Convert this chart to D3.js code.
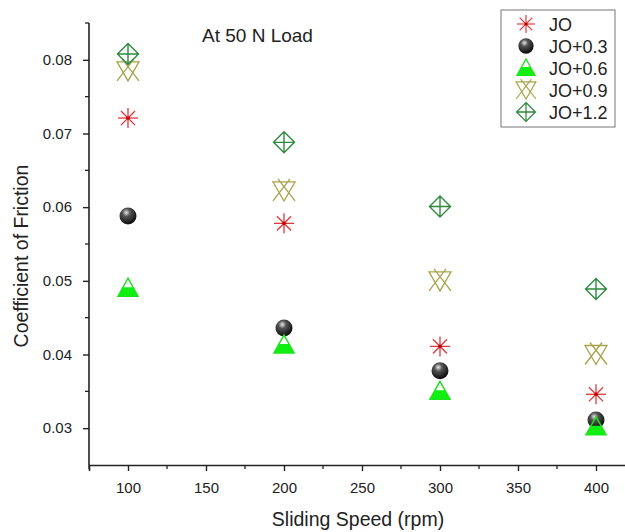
<!DOCTYPE html>
<html>
<head>
<meta charset="utf-8">
<script src="https://cdn.jsdelivr.net/npm/d3@7"></script>
<style>
body { margin: 0; background: #fff; }
text { font-family: "Liberation Sans", Arial, sans-serif; fill: #222; }
</style>
</head>
<body>
<script>
let speeds = [100, 200, 300, 400];
let seriesNames = ["JO", "JO+0.3", "JO+0.6", "JO+0.9", "JO+1.2"];
let jo    = [0.0721, 0.0578, 0.0411, 0.0346];
let jo03  = [0.0588, 0.0436, 0.0378, 0.0311];
let jo06  = [0.0490, 0.0413, 0.0350, 0.0302];
let jo09  = [0.0785, 0.0622, 0.0500, 0.0400];
let jo12  = [0.0808, 0.0688, 0.0601, 0.0489];
let xTicks = [100, 150, 200, 250, 300, 350, 400];
let yTicks = [0.03, 0.04, 0.05, 0.06, 0.07, 0.08];

let svg = d3.select("body").append("svg")
    .attr("width", 625)
    .attr("height", 532);

let defs = svg.append("defs");
let grad = defs.append("radialGradient")
    .attr("id", "ball")
    .attr("cx", "40%").attr("cy", "30%").attr("r", "65%");
grad.append("stop").attr("offset", "0%").attr("stop-color", "#e8e8e8");
grad.append("stop").attr("offset", "35%").attr("stop-color", "#555");
grad.append("stop").attr("offset", "100%").attr("stop-color", "#111");

let x = d3.scaleLinear().domain([75, 425]).range([89, 635]);
let y = d3.scaleLinear().domain([0.025, 0.085]).range([465, 23]);

// axes
let xAxis = svg.append("g").attr("transform", "translate(0,465)")
    .call(d3.axisBottom(x).tickValues(xTicks).tickSize(6).tickPadding(11).tickFormat(d3.format("d")));
let yAxis = svg.append("g").attr("transform", "translate(89,0)")
    .call(d3.axisLeft(y).tickValues(yTicks).tickSize(6).tickPadding(11).tickFormat(d3.format(".2f")));

[xAxis, yAxis].forEach(a => {
    a.select(".domain").attr("stroke", "#222").attr("stroke-width", 1.6);
    a.selectAll(".tick line").attr("stroke", "#222").attr("stroke-width", 1.4);
    a.selectAll(".tick text").style("font-size", "15px").attr("fill", "#222");
});
yAxis.select(".domain").attr("d", "M0," + y(0.025) + "V" + y(0.085));

// minor ticks
svg.append("g").selectAll("line")
    .data([75, 125, 175, 225, 275, 325, 375])
    .join("line")
    .attr("x1", d => x(d)).attr("x2", d => x(d))
    .attr("y1", 465).attr("y2", 469)
    .attr("stroke", "#222").attr("stroke-width", 1.3);
svg.append("g").selectAll("line")
    .data([0.035, 0.045, 0.055, 0.065, 0.075, 0.085])
    .join("line")
    .attr("x1", 85).attr("x2", 89)
    .attr("y1", d => y(d)).attr("y2", d => y(d))
    .attr("stroke", "#222").attr("stroke-width", 1.3);

// labels
svg.append("text").attr("x", 358).attr("y", 526)
    .attr("text-anchor", "middle").style("font-size", "19.5px")
    .text("Sliding Speed (rpm)");
svg.append("text")
    .attr("transform", "translate(28,256) rotate(-90)")
    .attr("text-anchor", "middle").style("font-size", "19.5px")
    .text("Coefficient of Friction");
svg.append("text").attr("x", 202).attr("y", 42)
    .style("font-size", "19px").text("At 50 N Load");

// marker drawers
function asterisk(g) {
    let r = 10;
    for (let i = 0; i < 4; i++) {
        let a = i * Math.PI / 4;
        g.append("line")
            .attr("x1", -r * Math.cos(a)).attr("y1", -r * Math.sin(a))
            .attr("x2", r * Math.cos(a)).attr("y2", r * Math.sin(a))
            .attr("stroke", "#e0383a").attr("stroke-width", 1.3);
    }
    g.append("circle").attr("r", 1.8).attr("fill", "#c00000");
}
function ball(g) {
    g.append("circle").attr("r", 8.5).attr("fill", "url(#ball)");
}
function tri(g) {
    g.append("path").attr("d", "M0,-10 L10,8 L-10,8 Z")
        .attr("fill", "none").attr("stroke", "#22dd22").attr("stroke-width", 1.5);
    g.append("path").attr("d", "M-5,-1 L5,-1 L10,8 L-10,8 Z")
        .attr("fill", "#11ee11");
}
function hourglass(g) {
    g.append("path").attr("d", "M-11,-9 L11,-9 L0,10 Z M-11,10 L6,-12 M11,10 L-6,-12")
        .attr("fill", "none").attr("stroke", "#a8a24a").attr("stroke-width", 1.3);
}
function diamond(g) {
    g.append("path").attr("d", "M0,-10.5 L10.5,0 L0,10.5 L-10.5,0 Z M0,-10.5 V10.5 M-10.5,0 H10.5")
        .attr("fill", "none").attr("stroke", "#2e8a3e").attr("stroke-width", 1.4);
}

let series = [
    { name: seriesNames[0], vals: jo, draw: asterisk },
    { name: seriesNames[1], vals: jo03, draw: ball },
    { name: seriesNames[2], vals: jo06, draw: tri },
    { name: seriesNames[3], vals: jo09, draw: hourglass },
    { name: seriesNames[4], vals: jo12, draw: diamond }
];

// draw order: small behind larger
[1, 2, 0, 3, 4].forEach(i => {
    let s = series[i];
    s.vals.forEach((v, j) => {
        let g = svg.append("g").attr("transform", `translate(${x(speeds[j])},${y(v)})`);
        s.draw(g);
    });
});

// legend
let leg = svg.append("g");
leg.append("rect").attr("x", 501).attr("y", 10).attr("width", 114).attr("height", 117)
    .attr("fill", "#fff").attr("stroke", "#777").attr("stroke-width", 1);
series.forEach((s, i) => {
    let ly = 24 + i * 22;
    let g = leg.append("g").attr("transform", `translate(526,${ly}) scale(0.9)`);
    s.draw(g);
    leg.append("text").attr("x", 549).attr("y", ly + 6.5)
        .style("font-size", "18px").text(s.name);
});
</script>
</body>
</html>
